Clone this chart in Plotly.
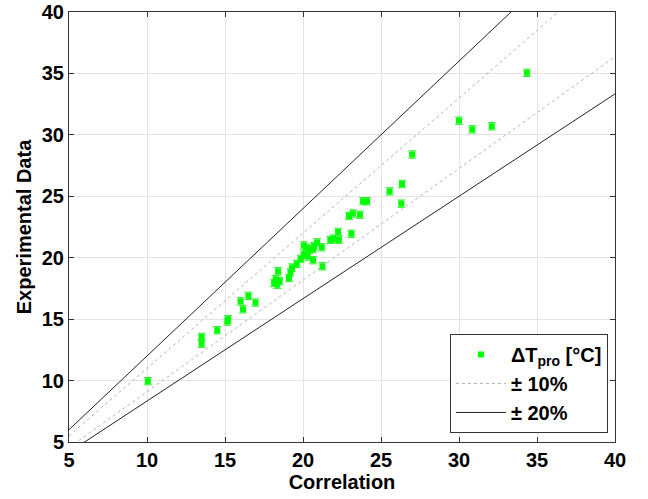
import plotly.graph_objects as go

# Data
corr = [10.05, 13.5, 13.5, 14.5, 15.15, 15.2, 16.0, 16.15, 16.5, 16.95,
        18.15, 18.25, 18.35, 18.5, 18.4, 19.1, 19.2, 19.3, 19.6, 19.85,
        20.05, 20.3, 20.05, 20.2, 20.4, 20.65, 20.7, 20.9, 20.65, 21.25,
        21.2, 21.75, 21.95, 22.3, 22.25, 23.1, 22.95, 23.2, 23.65, 23.85,
        24.1, 25.55, 26.35, 26.3, 27.0, 30.0, 30.85, 32.1, 34.35]
exper = [9.95, 13.55, 13.0, 14.1, 14.8, 15.0, 16.45, 15.8, 16.9, 16.35,
         17.95, 18.25, 17.8, 18.1, 18.9, 18.35, 18.8, 19.2, 19.5, 19.9,
         20.25, 20.1, 21.0, 20.8, 20.65, 20.7, 20.95, 21.25, 19.8, 19.3,
         20.85, 21.45, 21.55, 21.45, 22.1, 21.95, 23.4, 23.6, 23.5, 24.6,
         24.6, 25.4, 26.0, 24.4, 28.4, 31.15, 30.45, 30.7, 35.05]
err = [0.3] * len(corr)

band_x = [5, 40]
factors_10 = [1.1, 1 / 1.1]
factors_20 = [1.2, 1 / 1.2]

tick_vals = [5, 10, 15, 20, 25, 30, 35, 40]

def band(factors):
    xs, ys = [], []
    for f in factors:
        xs += band_x + [None]
        ys += [v * f for v in band_x] + [None]
    return xs, ys

fig = go.Figure()

fig.add_trace(go.Scatter(
    x=corr, y=exper, mode="markers",
    name="ΔT<sub>pro</sub> [°C]",
    marker=dict(symbol="square", size=6, color="#00ff00"),
    error_y=dict(type="data", array=err, color="#33ee33", thickness=1, width=4),
))

x10, y10 = band(factors_10)
fig.add_trace(go.Scatter(
    x=x10, y=y10, mode="lines", name="± 10%",
    line=dict(color="#a0a0a0", width=0.8, dash="dot"),
))

x20, y20 = band(factors_20)
fig.add_trace(go.Scatter(
    x=x20, y=y20, mode="lines", name="± 20%",
    line=dict(color="#222222", width=1),
))

font_family = "Liberation Sans, Arial, Helvetica, sans-serif"
axis_common = dict(
    range=[5, 40], tickvals=tick_vals,
    showgrid=True, gridcolor="#e3e3e3", gridwidth=1,
    showline=True, linecolor="#333333", linewidth=1, mirror="ticks",
    ticks="inside", ticklen=5, tickcolor="#333333",
    zeroline=False, automargin=False, ticklabeloverflow="allow",
    tickfont=dict(family=font_family, size=20, color="black", weight="bold"),
)

fig.update_layout(
    width=648, height=499,
    margin=dict(l=69, r=33, t=12, b=57),
    paper_bgcolor="white", plot_bgcolor="white",
    font=dict(family=font_family, color="black"),
    xaxis=dict(axis_common,
               title=dict(text="Correlation", standoff=4,
                          font=dict(family=font_family, size=20, weight="bold"))),
    yaxis=dict(axis_common,
               title=dict(text="Experimental Data", standoff=4,
                          font=dict(family=font_family, size=20, weight="bold"))),
    legend=dict(
        x=0.987, y=0.021, xanchor="right", yanchor="bottom",
        bgcolor="white", bordercolor="#333333", borderwidth=1,
        font=dict(family=font_family, size=20, color="black", weight="bold"),
        itemwidth=50, tracegroupgap=2,
    ),
    showlegend=True,
)

fig.write_html("out.html",
               config={"displayModeBar": False},
               post_script="document.body.style.margin='0';document.body.style.overflow='hidden';")
